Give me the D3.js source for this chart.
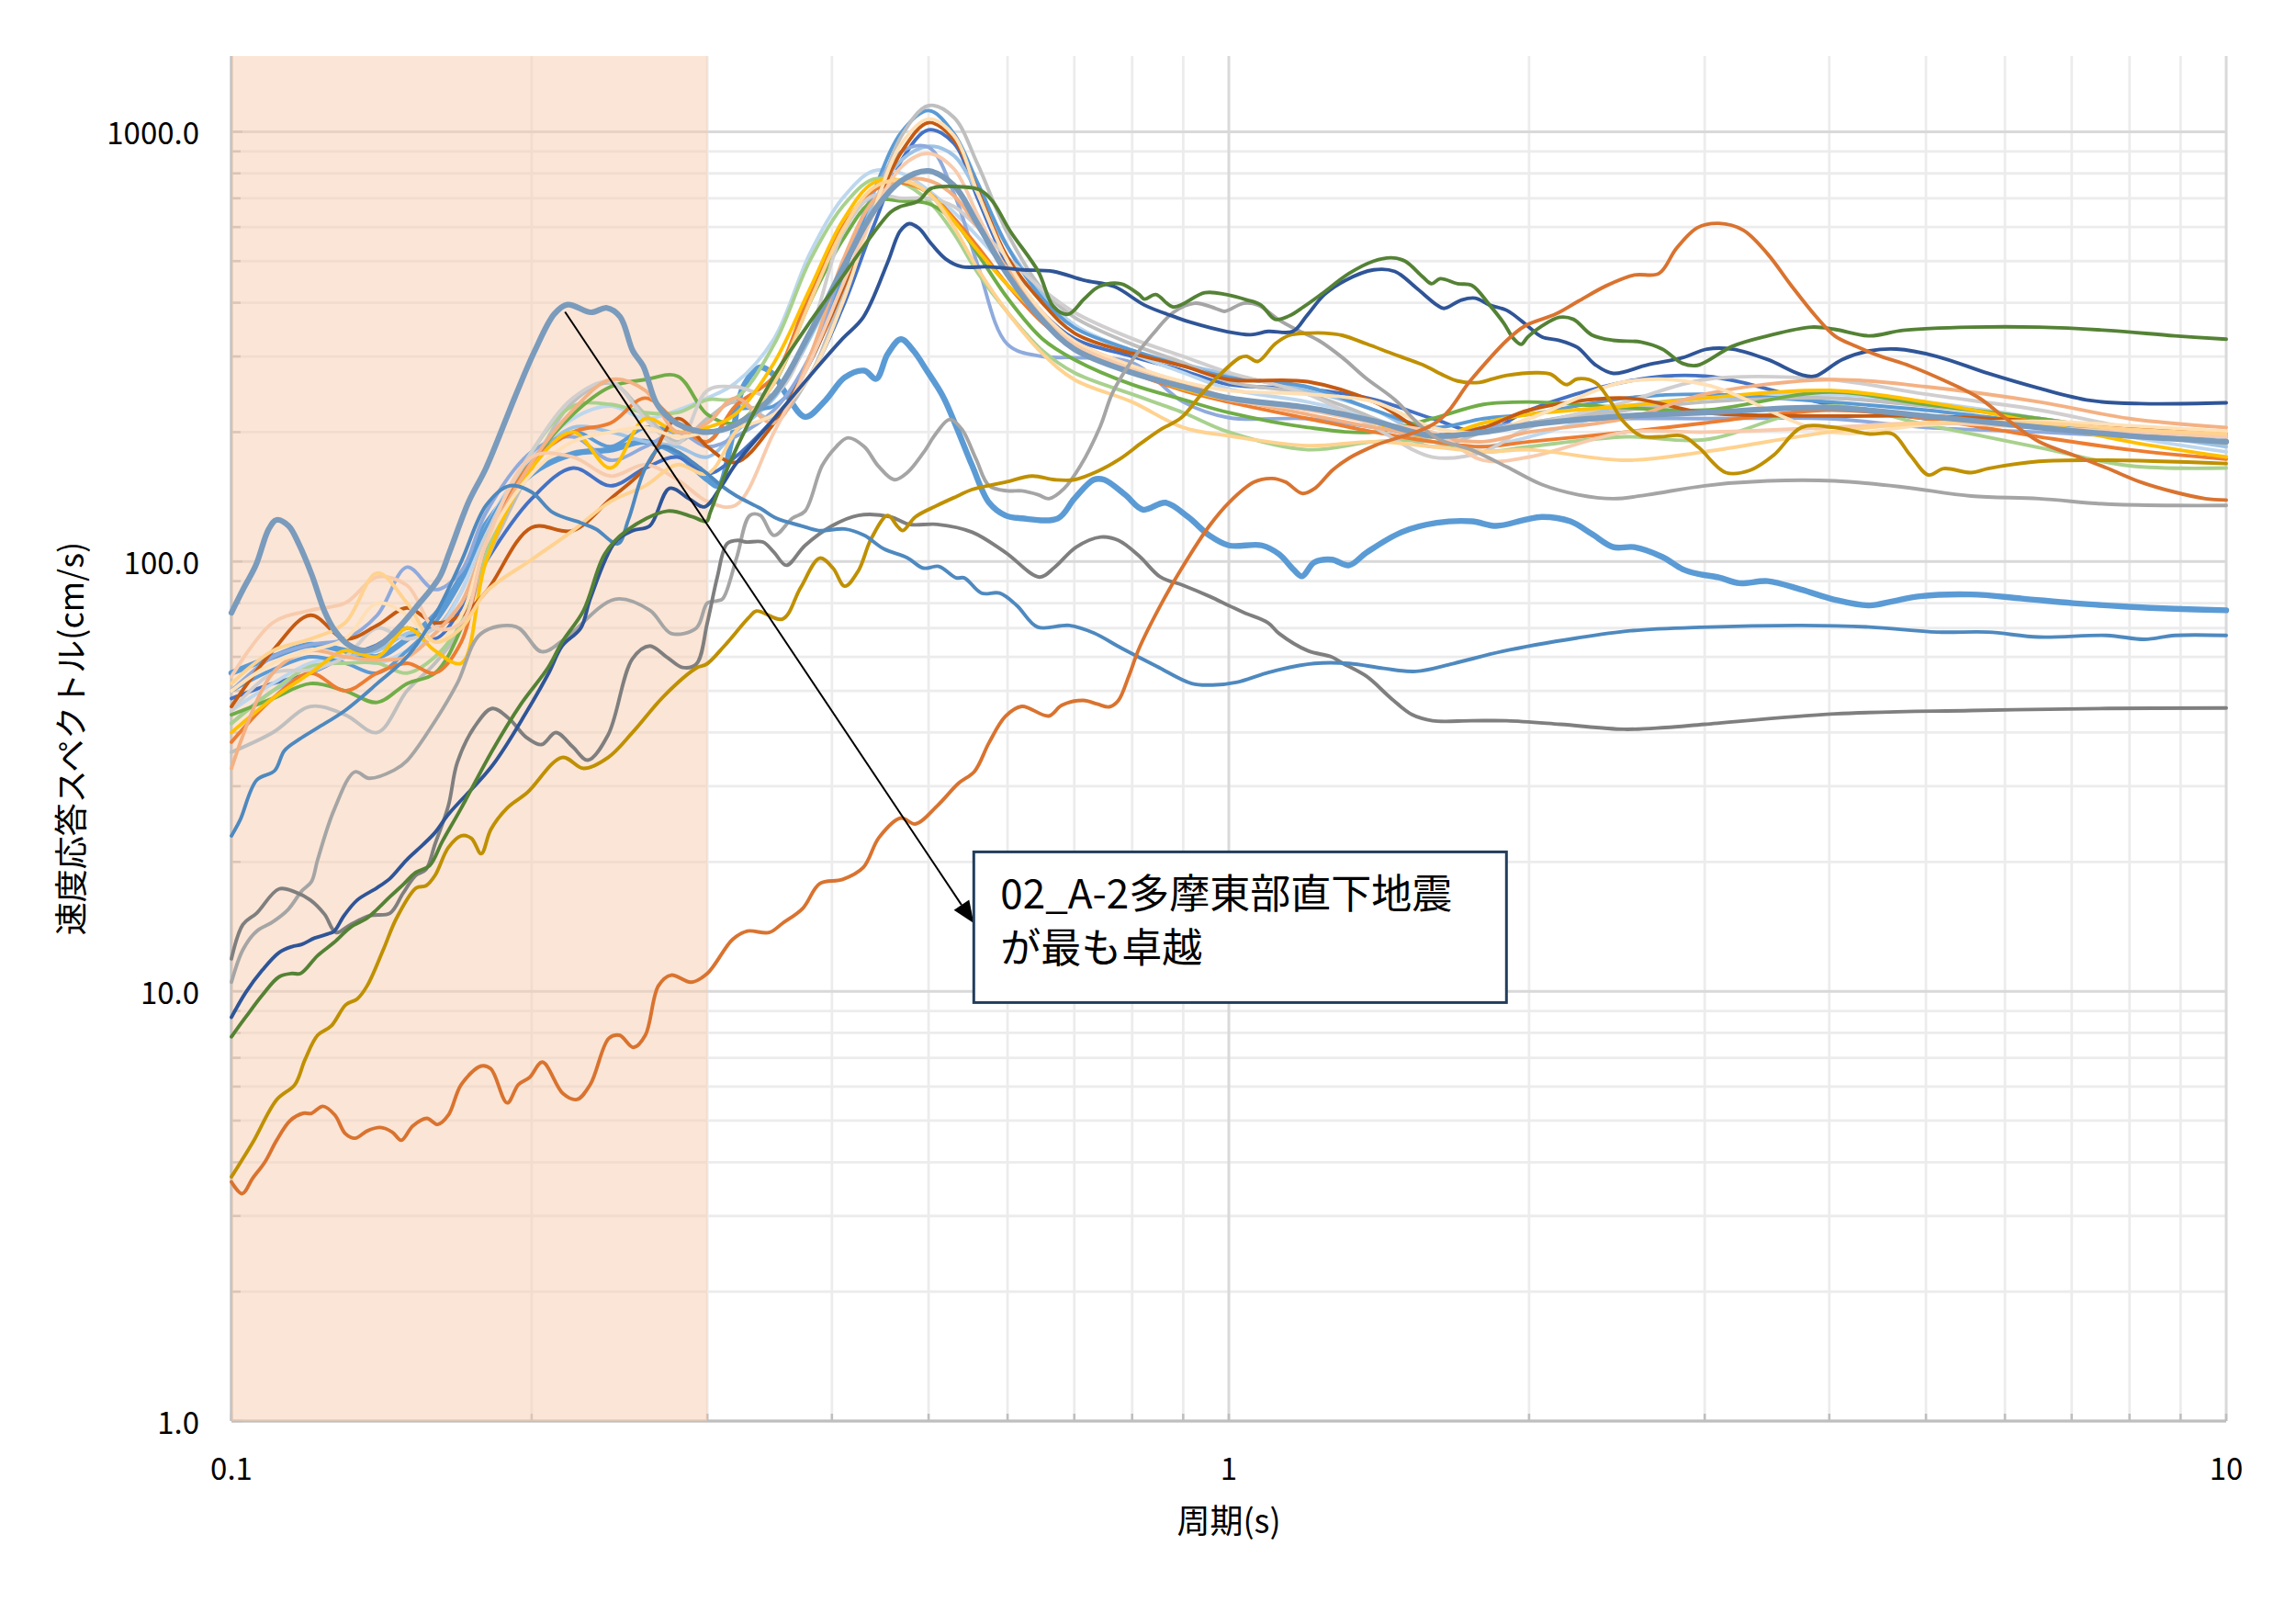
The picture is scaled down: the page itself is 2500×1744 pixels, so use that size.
<!DOCTYPE html>
<html>
<head>
<meta charset="utf-8">
<script src="https://cdn.jsdelivr.net/npm/d3@7"></script>
<style>
  html, body { margin: 0; padding: 0; background: #fff; }
  svg text { font-family: "Noto Sans CJK JP", "Noto Sans", sans-serif; fill: #000; }
</style>
</head>
<body>
<div id="chart"></div>
<script>
// 周期(s) の共通グリッド（束になっている波形用）
const periods = [0.1, 0.11, 0.12, 0.13, 0.14, 0.15, 0.16, 0.17, 0.18, 0.2, 0.22, 0.24, 0.26, 0.28, 0.3,
  0.32, 0.35, 0.38, 0.41, 0.44, 0.47, 0.5, 0.53, 0.56, 0.6, 0.65, 0.7, 0.8, 0.9, 1.0,
  1.2, 1.4, 1.6, 1.8, 2.0, 2.5, 3.0, 4, 5, 6.5, 8, 10];

// 束の波形（速度応答 cm/s）
const lightGray = [36, 40, 46, 44, 40, 50, 58, 70, 100, 165, 235, 260, 220, 190, 215, 235, 215, 270, 420, 660, 980, 1150, 1080, 840, 580, 430, 370, 320, 290, 262, 245, 215, 185, 200, 210, 225, 235, 240, 230, 215, 200, 188];
const blueThin = [50, 56, 60, 58, 55, 62, 72, 90, 120, 170, 200, 185, 205, 200, 190, 225, 230, 290, 460, 720, 1000, 1120, 990, 760, 540, 410, 350, 310, 285, 268, 255, 225, 205, 215, 220, 240, 245, 235, 225, 210, 200, 190];
const bisque = [50, 58, 62, 66, 80, 75, 65, 75, 110, 160, 190, 200, 205, 195, 200, 205, 220, 270, 400, 650, 940, 1070, 980, 720, 500, 380, 325, 285, 262, 250, 245, 235, 205, 200, 215, 262, 258, 200, 208, 212, 207, 201];
const brown = [46, 62, 75, 66, 71, 78, 72, 75, 85, 120, 118, 140, 165, 215, 185, 170, 210, 290, 430, 650, 900, 1050, 960, 730, 510, 400, 340, 305, 285, 265, 262, 235, 198, 205, 225, 240, 222, 218, 218, 212, 205, 198];
const blueMid = [48, 52, 55, 60, 64, 70, 66, 78, 100, 140, 165, 150, 165, 175, 160, 175, 215, 270, 390, 600, 860, 1010, 940, 700, 490, 380, 330, 300, 278, 258, 252, 238, 215, 200, 225, 262, 270, 232, 215, 205, 200, 195];
const lavender = [50, 60, 64, 66, 75, 97, 86, 95, 130, 180, 195, 172, 185, 200, 185, 195, 225, 300, 480, 720, 900, 920, 720, 490, 320, 300, 298, 290, 235, 216, 215, 205, 195, 205, 210, 215, 215, 215, 205, 200, 195, 190];
const lightBlue = [42, 50, 55, 60, 62, 68, 70, 85, 120, 170, 205, 200, 190, 185, 175, 200, 240, 330, 480, 680, 860, 925, 880, 720, 540, 420, 355, 310, 288, 272, 250, 225, 195, 205, 210, 230, 240, 240, 232, 215, 200, 185];
const pink = [54, 72, 77, 80, 92, 88, 70, 72, 110, 175, 175, 158, 168, 155, 138, 135, 200, 290, 440, 640, 830, 890, 820, 640, 470, 370, 320, 280, 255, 238, 225, 210, 200, 172, 175, 200, 200, 205, 210, 205, 200, 195];
const paleBlue = [45, 52, 58, 60, 58, 62, 68, 85, 120, 175, 215, 230, 215, 225, 240, 260, 330, 520, 700, 810, 800, 730, 650, 570, 480, 410, 355, 305, 275, 252, 235, 215, 190, 185, 195, 225, 240, 245, 235, 215, 195, 180];
const gold = [40, 48, 55, 62, 60, 70, 62, 58, 100, 165, 200, 165, 215, 200, 205, 220, 290, 430, 620, 760, 770, 720, 620, 530, 440, 370, 320, 278, 252, 238, 228, 210, 195, 210, 220, 230, 240, 250, 235, 210, 190, 175];
const lightGreen = [42, 50, 57, 58, 58, 55, 60, 72, 105, 180, 230, 232, 222, 222, 238, 240, 320, 500, 670, 775, 760, 690, 580, 470, 380, 310, 275, 245, 222, 200, 182, 190, 190, 180, 185, 195, 192, 230, 208, 184, 167, 165];
const orange = [38, 48, 55, 50, 55, 58, 55, 65, 110, 170, 200, 210, 240, 210, 190, 230, 270, 420, 600, 730, 760, 720, 630, 540, 440, 360, 315, 275, 250, 235, 215, 200, 190, 185, 190, 200, 210, 225, 215, 195, 182, 173];
const silver = [45, 55, 56, 60, 70, 66, 70, 80, 115, 180, 240, 262, 215, 188, 250, 255, 245, 340, 580, 710, 700, 700, 670, 600, 510, 430, 380, 330, 300, 275, 245, 205, 175, 180, 205, 235, 265, 265, 245, 225, 205, 195];
const green = [44, 48, 52, 50, 47, 52, 55, 70, 110, 170, 220, 255, 265, 270, 220, 210, 260, 400, 560, 690, 690, 680, 620, 520, 410, 330, 295, 258, 238, 222, 205, 200, 215, 232, 235, 228, 225, 248, 232, 215, 200, 190];
const salmon = [33, 55, 62, 60, 59, 60, 68, 80, 110, 170, 225, 265, 250, 200, 210, 240, 210, 300, 500, 690, 770, 770, 710, 600, 480, 380, 325, 285, 260, 240, 220, 205, 195, 190, 200, 215, 245, 265, 255, 235, 215, 205];
const lightOrange = [52, 62, 66, 72, 94, 80, 65, 70, 85, 101, 118, 138, 150, 168, 160, 200, 260, 400, 590, 740, 770, 720, 600, 480, 380, 305, 265, 235, 205, 196, 186, 190, 185, 180, 182, 172, 180, 200, 210, 210, 203, 198];

// 個別に読み取った波形 [周期, 速度]
const a2 = [[0.1,76],[0.1027,86],[0.1058,98],[0.109,119],[0.111,125],[0.1141,121],[0.1168,110],[0.1204,93],[0.124,76.5],[0.127,69],[0.131,64],[0.136,62],[0.141,64],[0.147,70],[0.153,78],[0.1617,92],[0.1654,105],[0.173,138],[0.18,165],[0.1925,242],[0.2014,309],[0.2108,377],[0.2173,396],[0.2294,380],[0.2379,389],[0.2453,371],[0.2526,309],[0.2587,285],[0.2666,234],[0.275,215],[0.285,205],[0.3,200],[0.32,208],[0.35,245],[0.38,340],[0.41,480],[0.44,650],[0.47,770],[0.5,810],[0.53,750],[0.56,610],[0.6,465],[0.65,365],[0.7,312],[0.8,275],[0.9,255],[1.0,240],[1.2,228],[1.4,212],[1.6,196],[1.8,200],[2.0,208],[2.5,218],[3.0,222],[4,228],[5,218],[6.5,205],[8,196],[10,190]];

const grayMid = [[0.1,10.5],[0.1027,12.5],[0.106,13.8],[0.11,14.5],[0.114,15.5],[0.1176,17.1],[0.1203,18],[0.122,20.2],[0.1268,26.5],[0.133,32.4],[0.1374,31.3],[0.1456,32.7],[0.15,34.4],[0.1605,43],[0.1684,52],[0.178,68],[0.193,70.5],[0.2046,61.7],[0.215,65.5],[0.2425,81.7],[0.2627,77],[0.276,68],[0.2925,70],[0.3,80],[0.307,81],[0.311,82],[0.321,102],[0.331,128],[0.339,128],[0.35,115],[0.365,126],[0.376,131],[0.391,167],[0.404,185],[0.415,194],[0.431,185],[0.445,167],[0.462,155],[0.476,161],[0.494,179],[0.509,199],[0.525,214],[0.54,203],[0.558,173],[0.575,150],[0.6,146],[0.62,146],[0.644,143],[0.66,140],[0.684,148],[0.71,167],[0.743,206],[0.764,246],[0.796,289],[0.839,338],[0.88,380],[0.924,399],[0.97,388],[0.99,382],[1.035,399],[1.07,395],[1.12,366],[1.17,346],[1.23,327],[1.3,298],[1.37,268],[1.47,237],[1.54,212],[1.62,193],[1.75,182],[1.9,166],[2.06,151],[2.24,143],[2.43,140],[2.63,143],[3.0,150],[3.47,154],[4.05,154],[4.74,149],[5.55,142],[6.49,140],[7.59,136],[8.88,135],[10,135]];

const grayDark = [[0.1,11.9],[0.1027,14.3],[0.106,15.2],[0.1116,17.3],[0.116,17],[0.12,16.3],[0.124,15.1],[0.1273,13.7],[0.1317,14.3],[0.1378,15.0],[0.1442,15.2],[0.1486,16.9],[0.153,18.6],[0.1567,19.2],[0.16,22],[0.165,27],[0.1684,34],[0.175,41],[0.1826,45.5],[0.19,43],[0.1975,39],[0.2046,37.5],[0.2115,40],[0.22,37],[0.2277,34.5],[0.2386,39.5],[0.2524,59.4],[0.2627,63.6],[0.273,60],[0.2833,56.7],[0.2925,57.7],[0.3,72],[0.307,92],[0.314,110],[0.322,112],[0.328,111],[0.341,111],[0.35,105],[0.36,98],[0.376,109],[0.40,121],[0.425,128],[0.458,127],[0.478,122],[0.51,122],[0.553,117],[0.597,105],[0.646,92],[0.669,97],[0.703,108],[0.744,114],[0.775,112],[0.813,103],[0.854,92],[0.9,88],[0.956,83],[1.0,79],[1.036,76],[1.095,72],[1.123,68],[1.2,62],[1.267,60],[1.3,58],[1.375,54],[1.455,48],[1.527,44],[1.6,42.6],[1.75,42.6],[1.9,42.6],[2.15,41.8],[2.49,40.7],[2.74,41.1],[3.0,41.8],[4.05,44.2],[5.55,45],[7.59,45.5],[10,45.6]];

const goldDark = [[0.1,3.7],[0.105,4.44],[0.111,5.59],[0.1158,6.07],[0.1185,6.93],[0.122,7.9],[0.1259,8.3],[0.1302,9.3],[0.1337,9.6],[0.1368,10.3],[0.142,12.5],[0.1464,14.8],[0.1532,17.4],[0.1567,17.6],[0.16,18.6],[0.165,21.6],[0.17,23.0],[0.174,22.7],[0.178,20.9],[0.182,23.8],[0.189,26.7],[0.198,29],[0.2146,35],[0.2255,33],[0.2386,35],[0.2524,40],[0.2718,48.8],[0.2925,56.5],[0.2995,57.7],[0.312,63.6],[0.3301,74],[0.336,76.7],[0.357,73.5],[0.372,86.8],[0.389,101.8],[0.401,96.5],[0.412,87.6],[0.425,95],[0.438,113],[0.455,128],[0.465,121],[0.471,118],[0.485,127],[0.51,135],[0.5345,142],[0.5525,147],[0.597,153],[0.635,158],[0.669,155],[0.7,155],[0.738,162],[0.777,173],[0.818,189],[0.855,203],[0.896,216],[0.94,246],[0.978,271],[1.026,298],[1.043,300],[1.069,292],[1.113,321],[1.15,336],[1.207,340],[1.247,340],[1.299,336],[1.374,321],[1.467,303],[1.564,287],[1.643,271],[1.696,263],[1.783,261],[1.84,266],[1.9,271],[2.03,275],[2.1,273],[2.18,258],[2.236,266],[2.33,261],[2.41,237],[2.485,212],[2.59,196],[2.7,195],[2.85,196],[2.96,184],[3.15,161],[3.33,163],[3.52,177],[3.75,205],[4.05,205],[4.39,198],[4.63,198],[4.82,177],[5.03,159],[5.21,164.5],[5.55,161],[5.77,164.5],[6.49,171],[7.59,172],[10,169]];

const navy = [[0.1,8.7],[0.1034,9.95],[0.1074,11.2],[0.1116,12.3],[0.115,12.7],[0.1176,12.85],[0.1212,13.3],[0.125,13.6],[0.1268,13.8],[0.1297,15.0],[0.1337,16.3],[0.1399,17.4],[0.1442,18.3],[0.1498,20.2],[0.1555,21.9],[0.16,23.4],[0.165,25.8],[0.1826,33.5],[0.198,45],[0.208,55],[0.2146,63.6],[0.224,70],[0.229,82],[0.2425,111],[0.2525,118],[0.2627,121],[0.275,148],[0.2875,140],[0.298,134],[0.31,150],[0.32,168],[0.35,215],[0.38,270],[0.41,330],[0.43,370],[0.455,497],[0.468,586],[0.478,611],[0.489,596],[0.503,549],[0.52,506],[0.54,485],[0.571,485],[0.6,481],[0.621,477],[0.667,473],[0.716,451],[0.768,436],[0.823,395],[0.885,370],[0.916,360],[0.994,343],[1.052,337],[1.095,343],[1.159,343],[1.197,373],[1.247,418],[1.309,451],[1.397,477],[1.467,473],[1.54,434],[1.617,395],[1.643,388],[1.711,406],[1.767,410],[1.826,395],[1.9,384],[1.994,353],[2.06,333],[2.145,327],[2.236,315],[2.33,287],[2.43,274],[2.63,287],[2.85,298],[3.015,312],[3.2,312],[3.47,295],[3.75,272],[3.87,270],[4.12,295],[4.39,309],[4.67,312],[5.13,300],[5.77,274],[6.49,253],[7.3,237],[8.21,233],[10,234]];

const darkGreen = [[0.1,7.84],[0.1034,8.72],[0.1074,9.8],[0.1116,10.8],[0.115,11.0],[0.1173,11.0],[0.122,12.1],[0.1268,13.0],[0.1317,14.1],[0.1368,14.8],[0.1399,15.5],[0.1442,16.6],[0.1486,17.7],[0.153,18.9],[0.158,19.6],[0.1627,22.3],[0.17,26.7],[0.1826,36.3],[0.195,46.5],[0.2078,56.7],[0.2146,65],[0.2255,77],[0.2367,104],[0.249,118],[0.2737,131],[0.29,127],[0.2995,124],[0.302,130],[0.314,164],[0.33,210],[0.35,270],[0.38,360],[0.41,460],[0.44,580],[0.458,650],[0.468,669],[0.489,691],[0.503,738],[0.54,744],[0.563,732],[0.579,691],[0.604,586],[0.644,473],[0.667,392],[0.69,376],[0.716,408],[0.741,436],[0.779,443],[0.813,418],[0.823,408],[0.845,418],[0.88,391],[0.946,422],[0.994,418],[1.043,406],[1.077,395],[1.113,366],[1.15,373],[1.188,391],[1.237,418],[1.32,468],[1.397,500],[1.455,509],[1.502,500],[1.564,460],[1.597,443],[1.629,455],[1.696,443],[1.753,439],[1.826,395],[1.886,359],[1.93,330],[1.964,320],[1.994,333],[2.06,353],[2.145,370],[2.216,366],[2.31,337],[2.43,327],[2.59,324],[2.72,312],[2.85,289],[2.95,286],[3.2,317],[3.47,335],[3.84,351],[4.05,347],[4.39,335],[4.74,345],[5.55,351],[6.49,351],[7.59,345],[8.88,335],[10,329]];

const steelBlue = [[0.1,23],[0.102,25],[0.106,31],[0.1105,32.6],[0.113,36.3],[0.117,38.6],[0.122,41],[0.13,45],[0.14,52],[0.15,60],[0.16,75],[0.17,100],[0.18,135],[0.19,150],[0.2,145],[0.21,130],[0.224,123],[0.232,119],[0.244,110],[0.25,125],[0.26,165],[0.27,185],[0.28,180],[0.29,170],[0.3,160],[0.31,150],[0.321,142],[0.339,133],[0.352,126],[0.373,121],[0.388,118],[0.412,119],[0.431,115],[0.451,107],[0.476,102],[0.494,96.5],[0.512,97.4],[0.533,91.6],[0.543,91.6],[0.565,84.4],[0.589,84.4],[0.613,79],[0.643,70.4],[0.692,71],[0.732,68.2],[0.781,62.8],[0.847,57],[0.918,52],[0.963,51.6],[1.02,52.4],[1.077,54.5],[1.123,56],[1.218,57.9],[1.32,57.9],[1.43,56.4],[1.54,55.5],[1.68,57.9],[1.88,61.8],[2.236,66.4],[2.53,69],[2.97,70.3],[3.75,71],[4.39,70.4],[5.13,68.5],[5.77,68.5],[6.49,66.7],[7.59,67.3],[8.28,65.9],[8.88,67.3],[10,67.3]];

const thickBlue = [[0.1,55],[0.11,60],[0.12,64],[0.13,62],[0.14,60],[0.15,66],[0.16,75],[0.17,92],[0.18,122],[0.2,160],[0.22,178],[0.24,182],[0.26,190],[0.28,178],[0.3,155],[0.308,150],[0.317,190],[0.326,255],[0.339,283],[0.349,273],[0.36,245],[0.376,217],[0.394,237],[0.412,268],[0.431,278],[0.443,266],[0.455,304],[0.469,329],[0.483,309],[0.498,278],[0.517,242],[0.533,206],[0.553,167],[0.575,137],[0.597,128],[0.62,126],[0.674,126],[0.7,140],[0.732,155],[0.75,155],[0.787,143],[0.82,132],[0.864,137],[0.91,127],[0.956,115],[1.0,109],[1.079,109],[1.123,104],[1.16,96],[1.184,92.4],[1.218,99.5],[1.268,101],[1.32,98],[1.375,105],[1.49,117],[1.616,123],[1.752,124],[1.854,121],[1.98,125],[2.06,127],[2.2,124],[2.31,116],[2.43,108],[2.55,108],[2.72,102.5],[2.85,96],[2.96,93.5],[3.1,91.8],[3.25,89],[3.47,90],[3.75,86],[4.05,81.5],[4.39,79],[4.63,80.8],[4.93,83],[5.55,83.8],[6.24,82],[7.02,80],[7.9,78.6],[8.88,77.6],[10,77]];

const orangeLow = [[0.1,3.6],[0.1025,3.38],[0.105,3.67],[0.108,4.0],[0.111,4.5],[0.1145,5.0],[0.118,5.2],[0.1203,5.2],[0.1235,5.4],[0.127,5.15],[0.130,4.67],[0.133,4.55],[0.137,4.74],[0.141,4.82],[0.145,4.7],[0.148,4.5],[0.152,4.86],[0.157,5.06],[0.161,4.9],[0.165,5.15],[0.170,6.07],[0.178,6.7],[0.182,6.6],[0.189,5.5],[0.194,6.07],[0.199,6.3],[0.205,6.84],[0.215,5.78],[0.222,5.6],[0.229,6.07],[0.239,7.77],[0.245,7.9],[0.253,7.4],[0.260,7.9],[0.268,10.3],[0.276,10.9],[0.289,10.5],[0.300,11.0],[0.318,13.2],[0.329,13.8],[0.346,13.7],[0.357,14.4],[0.374,15.6],[0.389,17.8],[0.410,18.2],[0.430,19.4],[0.446,22.8],[0.469,25.3],[0.485,24.5],[0.510,27],[0.536,30.5],[0.556,32.5],[0.575,37.9],[0.597,43.6],[0.620,46],[0.660,43.7],[0.680,46.3],[0.715,47.5],[0.738,46.6],[0.759,45.9],[0.775,47.5],[0.794,54.2],[0.813,62.8],[0.854,79],[0.896,96],[0.956,121],[1.0,137],[1.06,153],[1.105,156],[1.14,153],[1.185,144],[1.22,148],[1.27,163],[1.32,174],[1.4,186],[1.62,212],[1.75,265],[1.9,327],[1.98,353],[2.13,377],[2.24,403],[2.39,438],[2.55,464],[2.7,468],[2.81,535],[2.95,598],[3.1,612],[3.28,590],[3.47,519],[3.66,440],[3.87,374],[4.05,335],[4.25,317],[4.49,301],[4.82,285],[5.21,264],[5.64,241],[6.0,216],[6.49,190],[7.02,177],[7.59,165],[8.21,153],[8.88,145],[9.53,140],[10,139]];

// 目盛りラベル・注記
const yTickLabels = [1, 10, 100, 1000];
const xTickLabels = [0.1, 1, 10];
const shadeRange = [0.1, 0.3];
const noteLines = ['02_A-2多摩東部直下地震', 'が最も卓越'];
const noteFrom = [0.216, 381];   // 矢印の始点（A-2 のピーク付近）
const noteTip = [0.555, 14.4];   // 矢印の先端（枠の左辺）
const noteBoxTop = 21.1;         // 枠の上端（速度）

// 束の系列と色（青系を先に描き、暖色を上に重ねる）
const bundle = [
  { v: blueMid, c: '#4472C4' },
  { v: lightBlue, c: '#9DC3E6' },
  { v: paleBlue, c: '#BDD7EE' },
  { v: blueThin, c: '#5B9BD5' },
  { v: lavender, c: '#8FAADC' },
  { v: lightGray, c: '#BFBFBF' },
  { v: lightGreen, c: '#A9D18E' },
  { v: green, c: '#70AD47' },
  { v: orange, c: '#ED7D31' },
  { v: silver, c: '#D0CECE' },
  { v: gold, c: '#FFC000' },
  { v: brown, c: '#C55A11' },
  { v: salmon, c: '#F4B183' },
  { v: bisque, c: '#FFE0B6' },
  { v: pink, c: '#F8CBAD' },
  { v: lightOrange, c: '#FFD28F' }
];

const LW = 3.9;
const singles = [
  { d: a2, c: '#7A9BBC', w: 6.2 },
  { d: grayMid, c: '#A5A5A5', w: LW },
  { d: grayDark, c: '#7F7F7F', w: LW },
  { d: goldDark, c: '#BF9000', w: LW },
  { d: steelBlue, c: '#4E89BF', w: LW },
  { d: navy, c: '#2F5597', w: LW },
  { d: darkGreen, c: '#548235', w: LW },
  { d: orangeLow, c: '#D9732F', w: LW }
];

const W = 2500, H = 1744;
const pL = 252, pR = 2424, pT = 61, pB = 1547;

const svg = d3.select('#chart').append('svg')
  .attr('width', W).attr('height', H);

const x = d3.scaleLog().domain([0.1, 10]).range([pL, pR]);
const y = d3.scaleLog().domain([1, 1500]).range([pB, pT]);

const isMajor = v => Math.abs(Math.log10(v) - Math.round(Math.log10(v))) < 1e-6;

// 補助目盛線
const grid = svg.append('g');
const xt = x.ticks();
const yt = y.ticks();
grid.selectAll('line.gx').data(xt.filter(v => !isMajor(v))).enter().append('line')
  .attr('x1', d => x(d)).attr('x2', d => x(d)).attr('y1', pT).attr('y2', pB)
  .attr('stroke', '#ECECEC').attr('stroke-width', 2.8);
grid.selectAll('line.gy').data(yt.filter(v => !isMajor(v))).enter().append('line')
  .attr('y1', d => y(d)).attr('y2', d => y(d)).attr('x1', pL).attr('x2', pR)
  .attr('stroke', '#ECECEC').attr('stroke-width', 2.8);
// 主目盛線
grid.selectAll('line.mx').data(xt.filter(isMajor)).enter().append('line')
  .attr('x1', d => x(d)).attr('x2', d => x(d)).attr('y1', pT).attr('y2', pB)
  .attr('stroke', '#D9D9D9').attr('stroke-width', 3);
grid.selectAll('line.my').data(yt.filter(isMajor)).enter().append('line')
  .attr('y1', d => y(d)).attr('y2', d => y(d)).attr('x1', pL).attr('x2', pR)
  .attr('stroke', '#D9D9D9').attr('stroke-width', 3);

// 軸線と内向き目盛
const ax = svg.append('g').attr('stroke', '#BFBFBF');
ax.append('line').attr('x1', pL).attr('x2', pL).attr('y1', pT).attr('y2', pB).attr('stroke-width', 3);
ax.append('line').attr('x1', pL).attr('x2', pR).attr('y1', pB).attr('y2', pB).attr('stroke-width', 3);
ax.selectAll('line.ty').data(yt).enter().append('line')
  .attr('x1', pL).attr('x2', d => pL + (isMajor(d) ? 12 : 10))
  .attr('y1', d => y(d)).attr('y2', d => y(d)).attr('stroke-width', 2.5);
ax.selectAll('line.tx').data(xt).enter().append('line')
  .attr('x1', d => x(d)).attr('x2', d => x(d))
  .attr('y1', pB).attr('y2', pB - 8).attr('stroke-width', 2.5);

// 0.1～0.3 秒の網掛け
svg.append('rect')
  .attr('x', x(shadeRange[0])).attr('width', x(shadeRange[1]) - x(shadeRange[0]))
  .attr('y', pT).attr('height', pB - pT)
  .attr('fill', '#F8CBAD').attr('opacity', 0.5);

// 波形
const line = d3.line()
  .x(d => x(d[0])).y(d => y(d[1]))
  .curve(d3.curveCatmullRom.alpha(0.5));

const plot = svg.append('g').attr('fill', 'none')
  .attr('stroke-linejoin', 'round').attr('stroke-linecap', 'round');

// 太い青線は束の下に描く
plot.append('path')
  .datum(thickBlue)
  .attr('d', line)
  .attr('stroke', '#5B9BD5').attr('stroke-width', 6.4);

bundle.forEach(s => {
  plot.append('path')
    .datum(d3.zip(periods, s.v))
    .attr('d', line)
    .attr('stroke', s.c).attr('stroke-width', LW);
});
singles.forEach(s => {
  plot.append('path')
    .datum(s.d)
    .attr('d', line)
    .attr('stroke', s.c).attr('stroke-width', s.w);
});

// 目盛ラベル
svg.selectAll('text.yl').data(yTickLabels).enter().append('text')
  .attr('x', pL - 35).attr('y', d => y(d))
  .attr('text-anchor', 'end').attr('dominant-baseline', 'central')
  .attr('font-size', 33)
  .text(d => d3.format('.1f')(d));
svg.selectAll('text.xl').data(xTickLabels).enter().append('text')
  .attr('x', d => x(d)).attr('y', pB + 50)
  .attr('text-anchor', 'middle').attr('dominant-baseline', 'central')
  .attr('font-size', 33)
  .text(d => String(d));

// 軸タイトル
svg.append('text')
  .attr('x', (pL + pR) / 2).attr('y', 1653)
  .attr('text-anchor', 'middle').attr('dominant-baseline', 'central')
  .attr('font-size', 36)
  .text('周期(s)');
svg.append('text')
  .attr('transform', `translate(75, ${(pT + pB) / 2}) rotate(-90)`)
  .attr('text-anchor', 'middle').attr('dominant-baseline', 'central')
  .attr('font-size', 36)
  .text('速度応答スペクトル(cm/s)');

// 注記（矢印と枠）
const fx = x(noteFrom[0]), fy = y(noteFrom[1]);
const tx = x(noteTip[0]), ty = y(noteTip[1]);
const ang = Math.atan2(ty - fy, tx - fx);
const headLen = 24, headW = 10;
const bx = tx - headLen * Math.cos(ang), by = ty - headLen * Math.sin(ang);
svg.append('line')
  .attr('x1', fx).attr('y1', fy).attr('x2', bx).attr('y2', by)
  .attr('stroke', '#000').attr('stroke-width', 2);
svg.append('path')
  .attr('d', `M${tx},${ty} L${bx - headW * Math.sin(ang)},${by + headW * Math.cos(ang)} L${bx + headW * Math.sin(ang)},${by - headW * Math.cos(ang)} Z`)
  .attr('fill', '#000');

const boxX = tx, boxY = y(noteBoxTop);
const boxW = 580, boxH = 164;
svg.append('rect')
  .attr('x', boxX).attr('y', boxY).attr('width', boxW).attr('height', boxH)
  .attr('fill', '#fff').attr('stroke', '#223E5C').attr('stroke-width', 3);
svg.selectAll('text.note').data(noteLines).enter().append('text')
  .attr('x', boxX + 29).attr('y', (d, i) => boxY + 62 + i * 59)
  .attr('font-size', 44)
  .text(d => d);
</script>
</body>
</html>
